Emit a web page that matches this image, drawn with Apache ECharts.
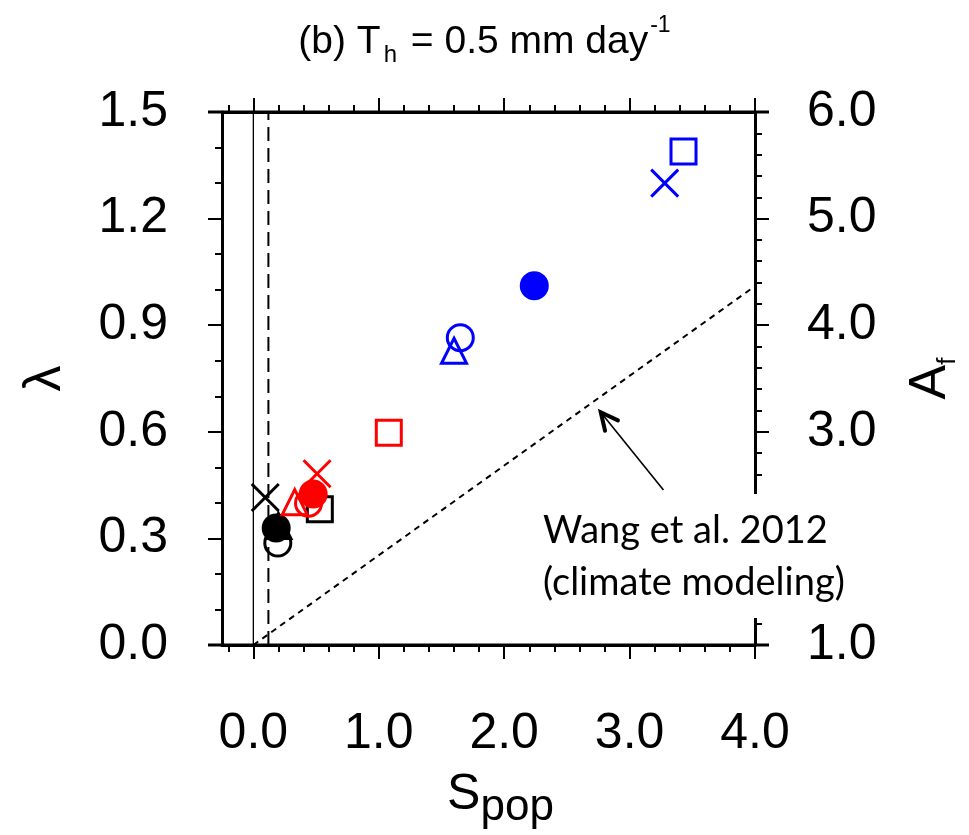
<!DOCTYPE html>
<html>
<head>
<meta charset="utf-8">
<script src="https://cdn.jsdelivr.net/npm/echarts@6/dist/echarts.min.js"></script>
<style>
  html, body { margin: 0; padding: 0; background: #ffffff; }
  #chart { width: 969px; height: 835px; }
</style>
</head>
<body>
<div id="chart"></div>
<script>
// ---- data -------------------------------------------------------------
// marker kinds, in the order they are listed for each colour group
const markerKinds = ['square', 'cross', 'triangle', 'circleOpen', 'circleFilled'];

// S_pop (x) and lambda (y) for each experiment group
const blackSpop   = [0.53, 0.095, 0.20, 0.195, 0.182];
const blackLambda = [0.382, 0.415, 0.335, 0.287, 0.329];
const redSpop     = [1.08, 0.508, 0.33, 0.44, 0.477];
const redLambda   = [0.597, 0.482, 0.402, 0.399, 0.425];
const blueSpop    = [3.43, 3.28, 1.60, 1.65, 2.24];
const blueLambda  = [1.389, 1.30, 0.828, 0.865, 1.011];

// drawing order within each colour group (later ones sit on top)
const blackOrder = ['square', 'cross', 'triangle', 'circleOpen', 'circleFilled'];
const redOrder   = ['triangle', 'square', 'circleOpen', 'cross', 'circleFilled'];
const blueOrder  = ['square', 'cross', 'circleOpen', 'triangle', 'circleFilled'];

// reference lines
const wangLine      = [[0, 0], [4.0, 1.01]];   // Wang et al. 2012 relation
const zeroLineS     = 0.0;                     // solid vertical line
const thresholdS    = 0.12;                    // dashed vertical line
const arrowTail     = [3.27, 0.436];
const arrowTip      = [2.77, 0.655];

// axes
const xMin = -0.25, xMax = 4.0;
const xMajorTicks = [0, 1, 2, 3, 4];
const xMinorTicks = [-0.2, 0.2, 0.4, 0.6, 0.8, 1.2, 1.4, 1.6, 1.8, 2.2, 2.4, 2.6, 2.8, 3.2, 3.4, 3.6, 3.8];
const lambdaMin = 0, lambdaMax = 1.5, lambdaStep = 0.3;
const afMin = 1, afMax = 6, afStep = 1;

// ---- styling helpers -------------------------------------------------
const FONT = '"Liberation Sans", Arial, Helvetica, sans-serif';
const symbolFor = {
  square:       { symbol: 'rect', size: 25, filled: false },
  cross:        { symbol: 'path://M0,0L10,10M10,0L0,10', size: 27, filled: false },
  triangle:     { symbol: 'triangle', size: 25, filled: false },
  circleOpen:   { symbol: 'circle', size: 26, filled: false },
  circleFilled: { symbol: 'circle', size: 29, filled: true }
};

function groupSeries(name, color, sArr, lArr, order) {
  return order.map(kind => {
    const i = markerKinds.indexOf(kind);
    const s = symbolFor[kind];
    return {
      name: name + ' ' + kind,
      type: 'scatter',
      silent: true,
      symbol: s.symbol,
      symbolSize: s.size,
      data: [[sArr[i], lArr[i]]],
      itemStyle: s.filled
        ? { color: color, borderWidth: 0, opacity: 1 }
        : { color: 'rgba(0,0,0,0)', borderColor: color, borderWidth: 3, opacity: 1 },
      z: 5
    };
  });
}

function tickAxis(position, values, len, showLine) {
  return {
    type: 'value', position: position, min: xMin, max: xMax,
    axisLine: { show: showLine, onZero: false, lineStyle: { color: '#000', width: 3 } },
    axisTick: { show: true, inside: false, length: len, customValues: values,
                lineStyle: { color: '#000', width: 2 } },
    axisLabel: { show: false },
    splitLine: { show: false }
  };
}

const chart = echarts.init(document.getElementById('chart'), null, { renderer: 'canvas' });

const option = {
  backgroundColor: '#ffffff',
  animation: false,
  title: {
    text: '{m|(b) T}{s|h}{m| = 0.5 mm day}{p|-1}',
    left: 'center',
    top: 9,
    textStyle: {
      fontWeight: 'normal',
      rich: {
        m: { fontFamily: FONT, fontWeight: 'normal', fontSize: 39, color: '#000', verticalAlign: 'bottom', padding: [9, 0, 5, 0] },
        s: { fontFamily: FONT, fontWeight: 'normal', fontSize: 24, color: '#000', verticalAlign: 'bottom', padding: [0, 3, 0, 3] },
        p: { fontFamily: FONT, fontWeight: 'normal', fontSize: 23, color: '#000', verticalAlign: 'top', padding: [0, 0, 0, 2] }
      }
    }
  },
  grid: { left: 222, right: 210, top: 112, bottom: 186, containLabel: false },
  xAxis: [
    {
      type: 'value', position: 'bottom', min: xMin, max: xMax,
      name: '{m|S}{s|pop}',
      nameLocation: 'middle',
      nameGap: 125,
      nameTextStyle: {
        rich: {
          m: { fontFamily: FONT, fontSize: 50, color: '#000', verticalAlign: 'bottom', padding: [0, 0, 10, 24] },
          s: { fontFamily: FONT, fontSize: 44, color: '#000', verticalAlign: 'bottom' }
        }
      },
      axisLine: { show: true, onZero: false, lineStyle: { color: '#000', width: 3 } },
      axisTick: { show: true, inside: false, length: 14, customValues: xMajorTicks,
                  lineStyle: { color: '#000', width: 2 } },
      axisLabel: { show: true, customValues: xMajorTicks, margin: 64,
                   fontFamily: FONT, fontSize: 50, color: '#000',
                   formatter: v => Number(v).toFixed(1) },
      splitLine: { show: false }
    },
    tickAxis('bottom', xMinorTicks, 7, false),
    tickAxis('top', xMajorTicks, 14, true),
    tickAxis('top', xMinorTicks, 7, false)
  ],
  yAxis: [
    {
      type: 'value', position: 'left', min: lambdaMin, max: lambdaMax, interval: lambdaStep,
      name: 'λ', nameLocation: 'middle', nameRotate: 90, nameGap: 150,
      nameTextStyle: { fontFamily: FONT, fontSize: 52, color: '#000' },
      axisLine: { show: true, onZero: false, lineStyle: { color: '#000', width: 3 } },
      axisTick: { show: true, inside: false, length: 14, lineStyle: { color: '#000', width: 2 } },
      minorTick: { show: true, splitNumber: 3, length: 7, lineStyle: { color: '#000', width: 2 } },
      axisLabel: { margin: 54, fontFamily: FONT, fontSize: 50, color: '#000',
                   formatter: v => Number(v).toFixed(1) },
      splitLine: { show: false }, minorSplitLine: { show: false }
    },
    {
      type: 'value', position: 'right', min: afMin, max: afMax, interval: afStep,
      name: '{m|A}{s|f}', nameLocation: 'middle', nameRotate: 90, nameGap: 150,
      nameTextStyle: {
        rich: {
          m: { fontFamily: FONT, fontSize: 52, color: '#000', verticalAlign: 'bottom', padding: [0, 0, 4, 0] },
          s: { fontFamily: FONT, fontSize: 26, color: '#000', verticalAlign: 'bottom' }
        }
      },
      axisLine: { show: true, onZero: false, lineStyle: { color: '#000', width: 3 } },
      axisTick: { show: true, inside: false, length: 14, lineStyle: { color: '#000', width: 2 } },
      minorTick: { show: true, splitNumber: 5, length: 7, lineStyle: { color: '#000', width: 2 } },
      axisLabel: { margin: 52, fontFamily: FONT, fontSize: 50, color: '#000',
                   formatter: v => Number(v).toFixed(1) },
      splitLine: { show: false }, minorSplitLine: { show: false }
    }
  ],
  graphic: [
    {
      type: 'group', z: 100,
      children: [
        { type: 'rect', shape: { x: 534, y: 494, width: 360, height: 124 },
          style: { fill: '#ffffff' }, z: 100 },
        { type: 'text', x: 543, y: 531, z: 101,
          style: { text: 'Wang et al. 2012', fill: '#000',
                   font: '38px Lato, "Open Sans", sans-serif', textVerticalAlign: 'middle' } },
        { type: 'text', x: 543, y: 583, z: 101,
          style: { text: '(climate modeling)', fill: '#000',
                   font: '38px Lato, "Open Sans", sans-serif', textVerticalAlign: 'middle' } }
      ]
    }
  ],
  series: [
    // extended top and bottom frame lines
    {
      type: 'custom', silent: true, z: 1, clip: false,
      data: [[xMin, lambdaMin]],
      renderItem: function (params, api) {
        const bl = api.coord([xMin, lambdaMin]);
        const tr = api.coord([xMax, lambdaMax]);
        const ext = 14;
        const style = { stroke: '#000', lineWidth: 3 };
        return {
          type: 'group',
          children: [
            { type: 'line', shape: { x1: bl[0] - ext, y1: bl[1], x2: tr[0] + ext, y2: bl[1] }, style: style },
            { type: 'line', shape: { x1: bl[0] - ext, y1: tr[1], x2: tr[0] + ext, y2: tr[1] }, style: style }
          ]
        };
      }
    },
    {
      name: 'S_pop = 0', type: 'line', silent: true, symbol: 'none', z: 2,
      data: [[zeroLineS, lambdaMin], [zeroLineS, lambdaMax]],
      lineStyle: { color: '#000', width: 1.3 }
    },
    {
      name: 'threshold', type: 'line', silent: true, symbol: 'none', z: 2,
      data: [[thresholdS, lambdaMin], [thresholdS, lambdaMax]],
      lineStyle: { color: '#000', width: 2, type: [14, 7] }
    },
    {
      name: 'Wang et al. 2012', type: 'line', silent: true, symbol: 'none', z: 2,
      data: wangLine,
      lineStyle: { color: '#000', width: 2, type: [6, 5] }
    },
    // arrow pointing at the Wang et al. line
    {
      type: 'custom', silent: true, z: 3, clip: false,
      data: [[arrowTail[0], arrowTail[1], arrowTip[0], arrowTip[1]]],
      renderItem: function (params, api) {
        const a = api.coord([api.value(0), api.value(1)]);
        const b = api.coord([api.value(2), api.value(3)]);
        const ang = Math.atan2(a[1] - b[1], a[0] - b[0]);
        const L = 19, spread = 0.45;
        const p1 = [b[0] + L * Math.cos(ang - spread), b[1] + L * Math.sin(ang - spread)];
        const p2 = [b[0] + L * Math.cos(ang + spread), b[1] + L * Math.sin(ang + spread)];
        return {
          type: 'group',
          children: [
            { type: 'line', shape: { x1: a[0], y1: a[1], x2: b[0], y2: b[1] },
              style: { stroke: '#000', lineWidth: 1.6 } },
            { type: 'polyline', shape: { points: [p1, b, p2] },
              style: { stroke: '#000', lineWidth: 4, fill: null, lineJoin: 'miter', lineCap: 'round' } }
          ]
        };
      }
    }
  ]
    .concat(groupSeries('black', '#000000', blackSpop, blackLambda, blackOrder))
    .concat(groupSeries('red', '#ff0000', redSpop, redLambda, redOrder))
    .concat(groupSeries('blue', '#0000ff', blueSpop, blueLambda, blueOrder))
};

chart.setOption(option);
</script>
</body>
</html>
